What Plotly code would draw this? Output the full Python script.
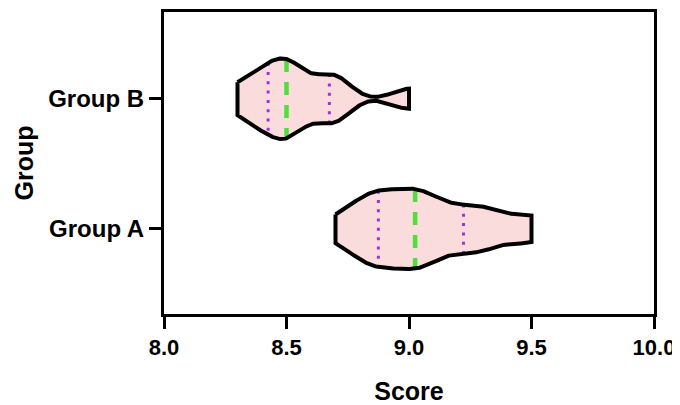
import numpy as np
import plotly.graph_objects as go

# ---- data ----
groups = ["Group A", "Group B"]
scores_a = [8.70, 8.77, 8.82, 8.85, 8.86, 8.88, 8.93, 8.97, 9.00, 9.00,
            9.05, 9.07, 9.10, 9.14, 9.21, 9.26, 9.30, 9.34, 9.47, 9.50]
scores_b = [8.30, 8.40, 8.40, 8.50, 8.50, 8.50, 8.60, 8.70, 8.70, 9.00]
x_tick_vals = [8.0, 8.5, 9.0, 9.5, 10.0]
x_tick_text = ["8.0", "8.5", "9.0", "9.5", "10.0"]

# ---- style ----
bandwidths = {"Group A": 0.075, "Group B": 0.065}
half_width = 0.31
fill_col = "#FBDCDC"
median_col = "#4FDF3A"
quart_col = "#9D33DD"
FONT = "Liberation Sans, Arial, sans-serif"

series = {"Group A": scores_a, "Group B": scores_b}

fig = go.Figure()


def kde(vals, h, grid):
    v = np.asarray(vals)[None, :]
    g = np.asarray(grid)[:, None]
    return np.exp(-0.5 * ((g - v) / h) ** 2).sum(axis=1)


for pos, name in enumerate(groups):
    vals = np.asarray(series[name], dtype=float)
    h = bandwidths[name]
    grid = np.linspace(vals.min(), vals.max(), 300)
    dens = kde(vals, h, grid)
    dmax = dens.max()
    w = half_width * dens / dmax
    xs = np.concatenate([grid, grid[::-1], grid[:1]])
    ys = np.concatenate([pos + w, pos - w[::-1], [pos + w[0]]])
    # fill
    fig.add_trace(go.Scatter(x=xs, y=ys, mode="lines", fill="toself",
                             fillcolor=fill_col, line=dict(width=0),
                             hoverinfo="skip", showlegend=False))
    # quartile lines
    q1, med, q3 = np.percentile(vals, [25, 50, 75])
    for q, col, dash, lw in [(q1, quart_col, "3px,6.3px", 3),
                             (q3, quart_col, "3px,6.3px", 3),
                             (med, median_col, "13px,10px", 4.5)]:
        hw = half_width * kde(vals, h, [q])[0] / dmax
        fig.add_trace(go.Scatter(x=[q, q], y=[pos + hw, pos - hw], mode="lines",
                                 line=dict(color=col, width=lw, dash=dash),
                                 hoverinfo="skip", showlegend=False))
    # outline
    fig.add_trace(go.Scatter(x=xs, y=ys, mode="lines",
                             line=dict(color="black", width=4),
                             hoverinfo="skip", showlegend=False))

fig.update_layout(
    width=672, height=397,
    margin=dict(l=156, r=26, t=1, b=90),
    plot_bgcolor="white", paper_bgcolor="white",
    font=dict(family=FONT, color="black"),
    showlegend=False,
)
fig.update_xaxes(
    range=[8.0, 10.0], tickvals=x_tick_vals, ticktext=x_tick_text,
    showline=True, linecolor="black", linewidth=3, mirror=True,
    ticks="outside", ticklen=12, tickwidth=3, tickcolor="black",
    showgrid=False, zeroline=False,
    tickfont=dict(family=FONT, size=22, color="black", weight="bold"),
    title=dict(text="<b>Score</b>", font=dict(family=FONT, size=25), standoff=26),
)
fig.update_yaxes(
    range=[-0.655, 1.667], tickvals=list(range(len(groups))), ticktext=groups,
    showline=True, linecolor="black", linewidth=3, mirror=True,
    ticks="outside", ticklen=12, tickwidth=3, tickcolor="black",
    showgrid=False, zeroline=False,
    tickfont=dict(family=FONT, size=24, color="black", weight="bold"),
    title=dict(text="<b>Group</b>", font=dict(family=FONT, size=25), standoff=8),
)

fig.write_html("out.html")
